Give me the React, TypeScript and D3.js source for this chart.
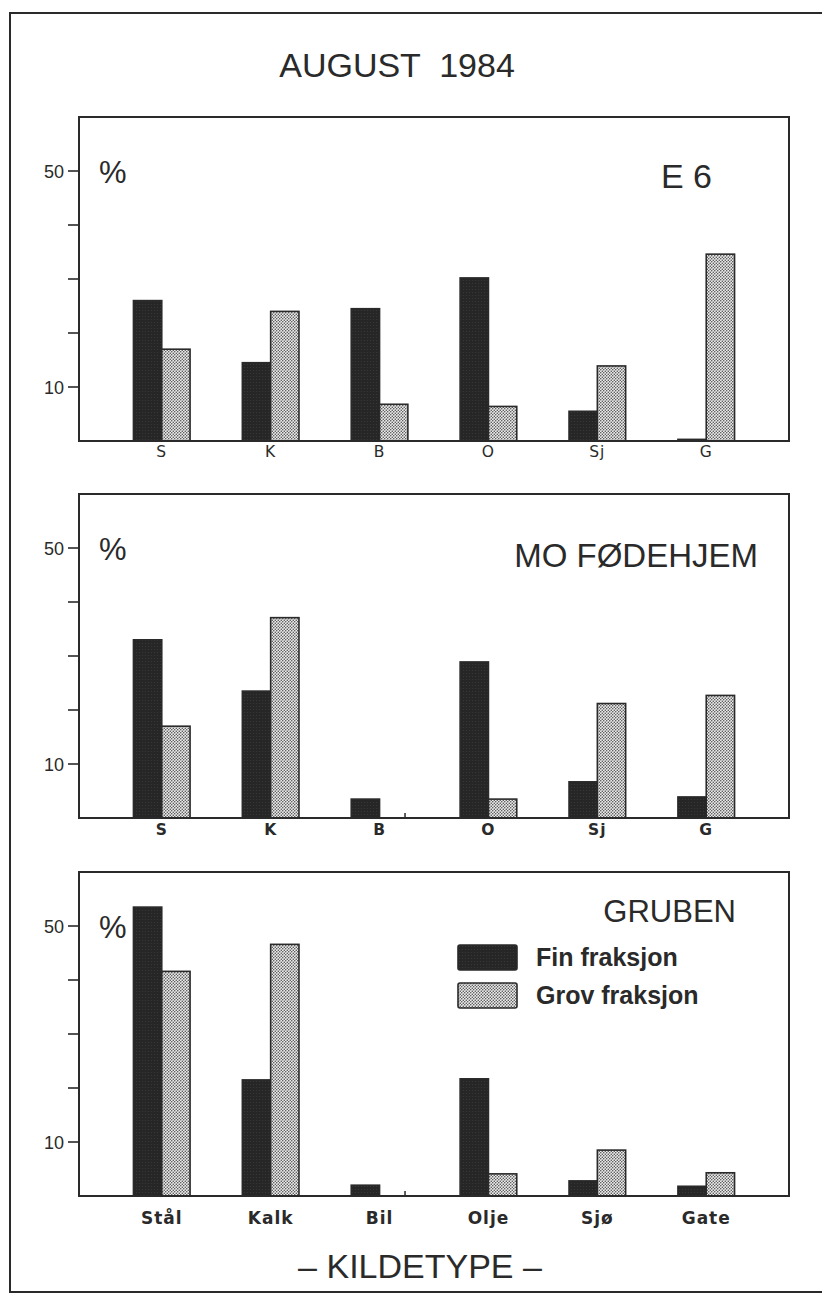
import React from 'react';
import * as d3 from 'd3';

// Source-type shares (%) per site, fine and coarse fraction
const TITLE = 'AUGUST  1984';
const X_TITLE = '– KILDETYPE –';
const SITES = ['E 6', 'MO FØDEHJEM', 'GRUBEN'];
const SHORT_CATS = ['S', 'K', 'B', 'O', 'Sj', 'G'];
const LONG_CATS = ['Stål', 'Kalk', 'Bil', 'Olje', 'Sjø', 'Gate'];
const SERIES = ['Fin fraksjon', 'Grov fraksjon'];

const E6_FIN = [26, 14.5, 24.5, 30.2, 5.5, 0.3];
const E6_GROV = [17, 24, 6.8, 6.4, 13.9, 34.6];
const MO_FIN = [33, 23.5, 3.5, 28.9, 6.7, 3.9];
const MO_GROV = [17, 37.1, 0, 3.5, 21.2, 22.7];
const GRUBEN_FIN = [53.5, 21.5, 2.0, 21.7, 2.8, 1.8];
const GRUBEN_GROV = [41.6, 46.6, 0, 4.1, 8.5, 4.3];

const Y_TICKS = [10, 20, 30, 40, 50];
const Y_LABELED = [10, 50];
const Y_MAX = 60;

const W = 822;
const H = 1294;
const X0 = 79;
const X1 = 789;
const PANEL_H = 324;
const INK = '#2a2a2a';
const SANS = '"Liberation Sans", Arial, Helvetica, sans-serif';
const PLOT = '"DejaVu Sans", Verdana, sans-serif';

const panels = [
  { top: 117, site: SITES[0], cats: SHORT_CATS, fin: E6_FIN, grov: E6_GROV,
    siteX: 712, siteY: 71, siteSize: 34, catSize: 15.5, catWeight: 400, catDy: 16, legend: false },
  { top: 494, site: SITES[1], cats: SHORT_CATS, fin: MO_FIN, grov: MO_GROV,
    siteX: 758, siteY: 73, siteSize: 33, catSize: 15.5, catWeight: 700, catDy: 17, legend: false },
  { top: 872, site: SITES[2], cats: LONG_CATS, fin: GRUBEN_FIN, grov: GRUBEN_GROV,
    siteX: 736, siteY: 50, siteSize: 31, catSize: 17, catWeight: 700, catDy: 28, legend: true },
];

function Panel({ p }: { p: typeof panels[number] }) {
  const bottom = p.top + PANEL_H;
  const x = d3.scaleBand<string>().domain(p.cats).range([X0, X1]).paddingInner(0.48).paddingOuter(0.5);
  const sub = d3.scaleBand<string>().domain(SERIES).range([0, x.bandwidth()]);
  const y = d3.scaleLinear().domain([0, Y_MAX]).range([bottom, p.top]);
  const bw = sub.bandwidth();

  return (
    <g>
      {/* bars */}
      {p.cats.map((c, i) => {
        const gx = x(c)!;
        const items = [
          { s: SERIES[0], v: p.fin[i] },
          { s: SERIES[1], v: p.grov[i] },
        ];
        return (
          <g key={c}>
            {items.map(({ s, v }) => {
              const bx = gx + sub(s)!;
              if (v <= 0) {
                return (
                  <line key={s} x1={bx + bw * 0.9} x2={bx + bw * 0.9} y1={y(0)} y2={y(0) - 5}
                    stroke={INK} strokeWidth={1.5} />
                );
              }
              return (
                <rect key={s} x={bx} y={y(v)} width={bw} height={y(0) - y(v)}
                  fill={s === SERIES[0] ? 'url(#finTex)' : 'url(#grovDots)'}
                  stroke={INK} strokeWidth={1.6} />
              );
            })}
          </g>
        );
      })}

      {/* frame */}
      <rect x={X0} y={p.top} width={X1 - X0} height={PANEL_H} fill="none" stroke={INK} strokeWidth={2} />

      {/* y ticks */}
      {Y_TICKS.map((t) => (
        <line key={t} x1={X0 - 11} x2={X0} y1={y(t)} y2={y(t)} stroke={INK} strokeWidth={1.6} />
      ))}
      {Y_LABELED.map((t) => (
        <text key={t} x={X0 - 15} y={y(t) + 6.5} textAnchor="end" fontFamily={SANS} fontSize={18} fill={INK}>
          {t}
        </text>
      ))}
      <text x={99} y={p.top + 66} fontFamily={SANS} fontSize={31} fill={INK}>%</text>

      {/* site name */}
      <text x={p.siteX} y={p.top + p.siteY} textAnchor="end" fontFamily={SANS} fontSize={p.siteSize} fill={INK}>
        {p.site}
      </text>

      {/* category labels */}
      {p.cats.map((c) => (
        <text key={c} x={x(c)! + x.bandwidth() / 2} y={bottom + p.catDy} textAnchor="middle"
          fontFamily={PLOT} fontSize={p.catSize} fontWeight={p.catWeight} letterSpacing={1} fill={INK}>
          {c}
        </text>
      ))}

      {/* legend */}
      {p.legend && SERIES.map((s, i) => (
        <g key={s} transform={`translate(458, ${p.top + 73 + i * 38})`}>
          <rect width={59} height={25} fill={i === 0 ? 'url(#finTex)' : 'url(#grovDots)'} stroke={INK} strokeWidth={1.6} rx={2} />
          <text x={78} y={21} fontFamily={SANS} fontSize={25} fontWeight={700} fill={INK}>{s}</text>
        </g>
      ))}
    </g>
  );
}

export default function App() {
  return (
    <svg width={W} height={H} viewBox={`0 0 ${W} ${H}`}
      style={{ position: 'absolute', left: 0, top: 0, background: '#fff', display: 'block' }}>
      <defs>
        <pattern id="grovDots" width={3} height={3} patternUnits="userSpaceOnUse">
          <rect width={3} height={3} fill="#ececec" />
          <circle cx={0.75} cy={0.75} r={0.75} fill="#444" />
          <circle cx={2.25} cy={2.25} r={0.75} fill="#444" />
        </pattern>
        <pattern id="finTex" width={3} height={3} patternUnits="userSpaceOnUse">
          <rect width={3} height={3} fill="#262626" />
          <circle cx={1.5} cy={1.5} r={0.6} fill="#3a3a3a" />
        </pattern>
      </defs>
      <rect x={0} y={0} width={W} height={H} fill="#fff" />
      <rect x={10} y={13} width={W + 10} height={1279} fill="none" stroke={INK} strokeWidth={2} />

      <text x={397} y={77} textAnchor="middle" fontFamily={SANS} fontSize={34} fill={INK}
        style={{ whiteSpace: 'pre' }}>
        {TITLE}
      </text>

      {panels.map((p) => <Panel key={p.site} p={p} />)}

      <text x={420} y={1278} textAnchor="middle" fontFamily={SANS} fontSize={34} fill={INK}>
        {X_TITLE}
      </text>
    </svg>
  );
}
